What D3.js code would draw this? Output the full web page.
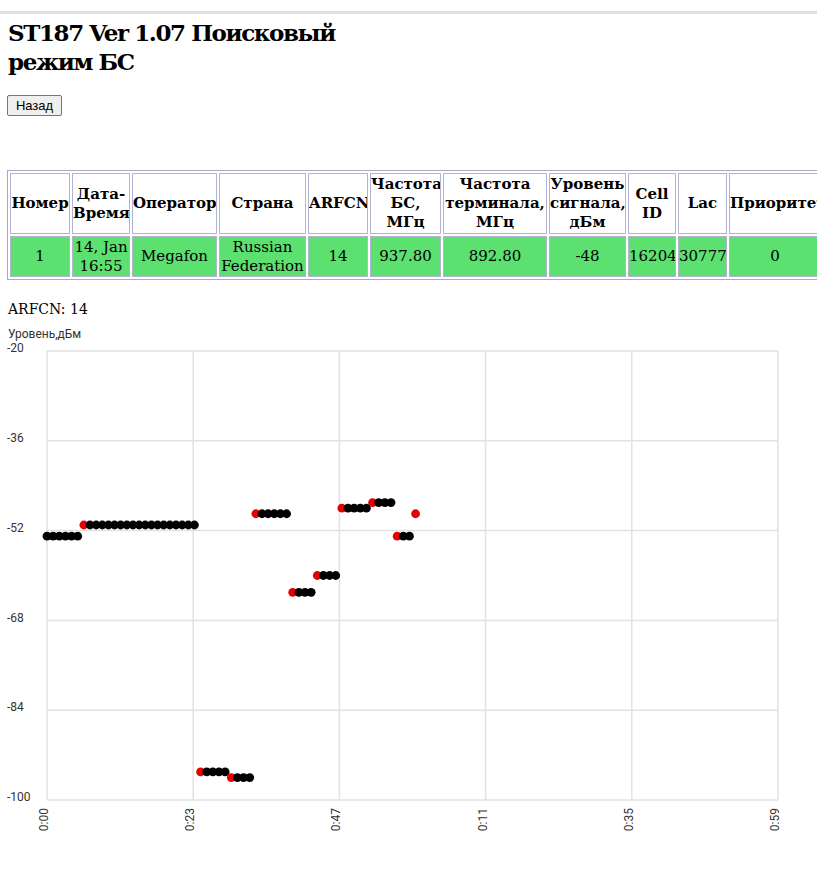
<!DOCTYPE html>
<html>
<head>
<meta charset="utf-8">
<script src="https://cdn.jsdelivr.net/npm/d3@7"></script>
<style>
  html, body { margin: 0; padding: 0; overflow: hidden; background: #fff; }
  body { width: 817px; height: 873px; position: relative; }
  #topline { position: absolute; left: 0; top: 11px; width: 817px; height: 3px; background: #e0e0e0; }
  #title { position: absolute; left: 8px; top: 18px; font-family: "DejaVu Serif", serif; font-weight: bold; font-size: 23px; letter-spacing: -1.4px; line-height: 29px; color: #000; white-space: nowrap; }
  #back { position: absolute; left: 7px; top: 95px; width: 55px; height: 21px; font-family: "Liberation Sans", Arial, sans-serif; font-size: 13px; padding: 0; background: #efefef; border: 1px solid #767676; border-radius: 2px; color: #000; }
  #tbl { position: absolute; left: 7px; top: 170px; border-collapse: separate; border-spacing: 2px; border: 1px solid #a9a9c6; font-family: "DejaVu Serif", serif; font-size: 15px; line-height: 19px; table-layout: fixed; }
  #tbl td { border: 1px solid #b2b2d2; padding: 0; text-align: center; vertical-align: middle; white-space: nowrap; overflow: hidden; }
  #tbl tr.head td { font-weight: bold; background: #fff; }
  #tbl tr.data td { background: #5ce070; }
  #arfcn { position: absolute; left: 8px; top: 299px; font-family: "DejaVu Serif", serif; font-size: 14px; line-height: 20px; }
  #chart { position: absolute; left: 0; top: 0; }
</style>
</head>
<body>
<div id="topline"></div>
<div id="title"></div>
<button id="back">Назад</button>
<table id="tbl"></table>
<div id="arfcn"></div>
<svg id="chart" width="817" height="873"></svg>
<script>
// ---- data ----
const titleLines = ["ST187 Ver 1.07 Поисковый", "режим БС"];
const headers = [["Номер"], ["Дата-", "Время"], ["Оператор"], ["Страна"], ["ARFCN"], ["Частота", "БС,", "МГц"], ["Частота", "терминала,", "МГц"], ["Уровень", "сигнала,", "дБм"], ["Cell", "ID"], ["Lac"], ["Приоритет"]];
const rowValues = [["1"], ["14, Jan", "16:55"], ["Megafon"], ["Russian", "Federation"], ["14"], ["937.80"], ["892.80"], ["-48"], ["16204"], ["30777"], ["0"]];
const arfcnLabel = "ARFCN: 14";
const yAxisTitle = "Уровень,дБм";
const yTicks = [-20, -36, -52, -68, -84, -100];
const xTickLabels = ["0:00", "0:23", "0:47", "0:11", "0:35", "0:59"];
const xMax = 119; // seconds span of the axis
// signal level per second (dBm)
const levels = [
  -53, -53, -53, -53, -53, -53,
  -51, -51, -51, -51, -51, -51, -51, -51, -51, -51, -51, -51, -51, -51, -51, -51, -51, -51, -51,
  -95, -95, -95, -95, -95,
  -96, -96, -96, -96,
  -49, -49, -49, -49, -49, -49,
  -63, -63, -63, -63,
  -60, -60, -60, -60,
  -48, -48, -48, -48, -48,
  -47, -47, -47, -47,
  -53, -53, -53,
  -49
];

// ---- layout ----
const colWidths = [60, 58, 85, 87, 60, 71, 104, 77, 48, 49, 92];
const headH = 61, dataH = 41;

d3.select("#title").html(null).selectAll("div").data(titleLines).join("div").text(d => d);
d3.select("#arfcn").text(arfcnLabel);

const tbl = d3.select("#tbl");
const rows = [{cls: "head", cells: headers, h: headH}, {cls: "data", cells: rowValues, h: dataH}];
tbl.selectAll("tr").data(rows).join("tr").attr("class", d => d.cls)
  .selectAll("td").data(d => d.cells.map((c, i) => ({lines: c, w: colWidths[i], h: d.h})))
  .join("td")
  .style("width", d => (d.w - 2) + "px")
  .style("min-width", d => (d.w - 2) + "px")
  .style("max-width", d => (d.w - 2) + "px")
  .style("height", d => (d.h - 2) + "px")
  .html(d => d.lines.join("<br>"));

// ---- chart ----
const svg = d3.select("#chart");
const plot = {left: 47, right: 778, top: 351, bottom: 800};
const x = d3.scaleLinear().domain([0, xMax]).range([plot.left, plot.right]);
const y = d3.scaleLinear().domain([-100, -20]).range([plot.bottom, plot.top]);
const xTickVals = xTickLabels.map((_, i) => i * xMax / (xTickLabels.length - 1));

const grid = svg.append("g").attr("stroke", "#e2e2e2").attr("stroke-width", 1.5);
grid.selectAll("line.h").data(yTicks).join("line").attr("class", "h")
  .attr("x1", plot.left).attr("x2", plot.right).attr("y1", d => y(d)).attr("y2", d => y(d));
grid.selectAll("line.v").data(xTickVals).join("line").attr("class", "v")
  .attr("y1", plot.top).attr("y2", plot.bottom).attr("x1", d => x(d)).attr("x2", d => x(d));

const font = "Roboto, 'Liberation Sans', Arial, sans-serif";
svg.append("text").attr("x", 8).attr("y", 338).attr("font-family", font).attr("font-size", 12).attr("fill", "#333").text(yAxisTitle);

svg.append("g").selectAll("text").data(yTicks).join("text")
  .attr("x", 7).attr("y", d => y(d) - 3).attr("dy", "0.35em")
  .attr("font-family", font).attr("font-size", 12).attr("fill", "#333")
  .text(d => d);

svg.append("g").selectAll("text").data(xTickVals).join("text")
  .attr("transform", d => `translate(${x(d) + 1},808) rotate(-90)`)
  .attr("text-anchor", "end")
  .attr("font-family", font).attr("font-size", 12).attr("fill", "#333")
  .text((d, i) => xTickLabels[i]);

const pts = levels.map((v, i) => ({t: i, v, changed: i > 0 && v !== levels[i - 1]}));
svg.append("g").selectAll("circle").data(pts).join("circle")
  .attr("cx", d => x(d.t)).attr("cy", d => y(d.v)).attr("r", 4.4)
  .attr("fill", d => d.changed ? "#e60000" : "#000");
</script>
</body>
</html>
